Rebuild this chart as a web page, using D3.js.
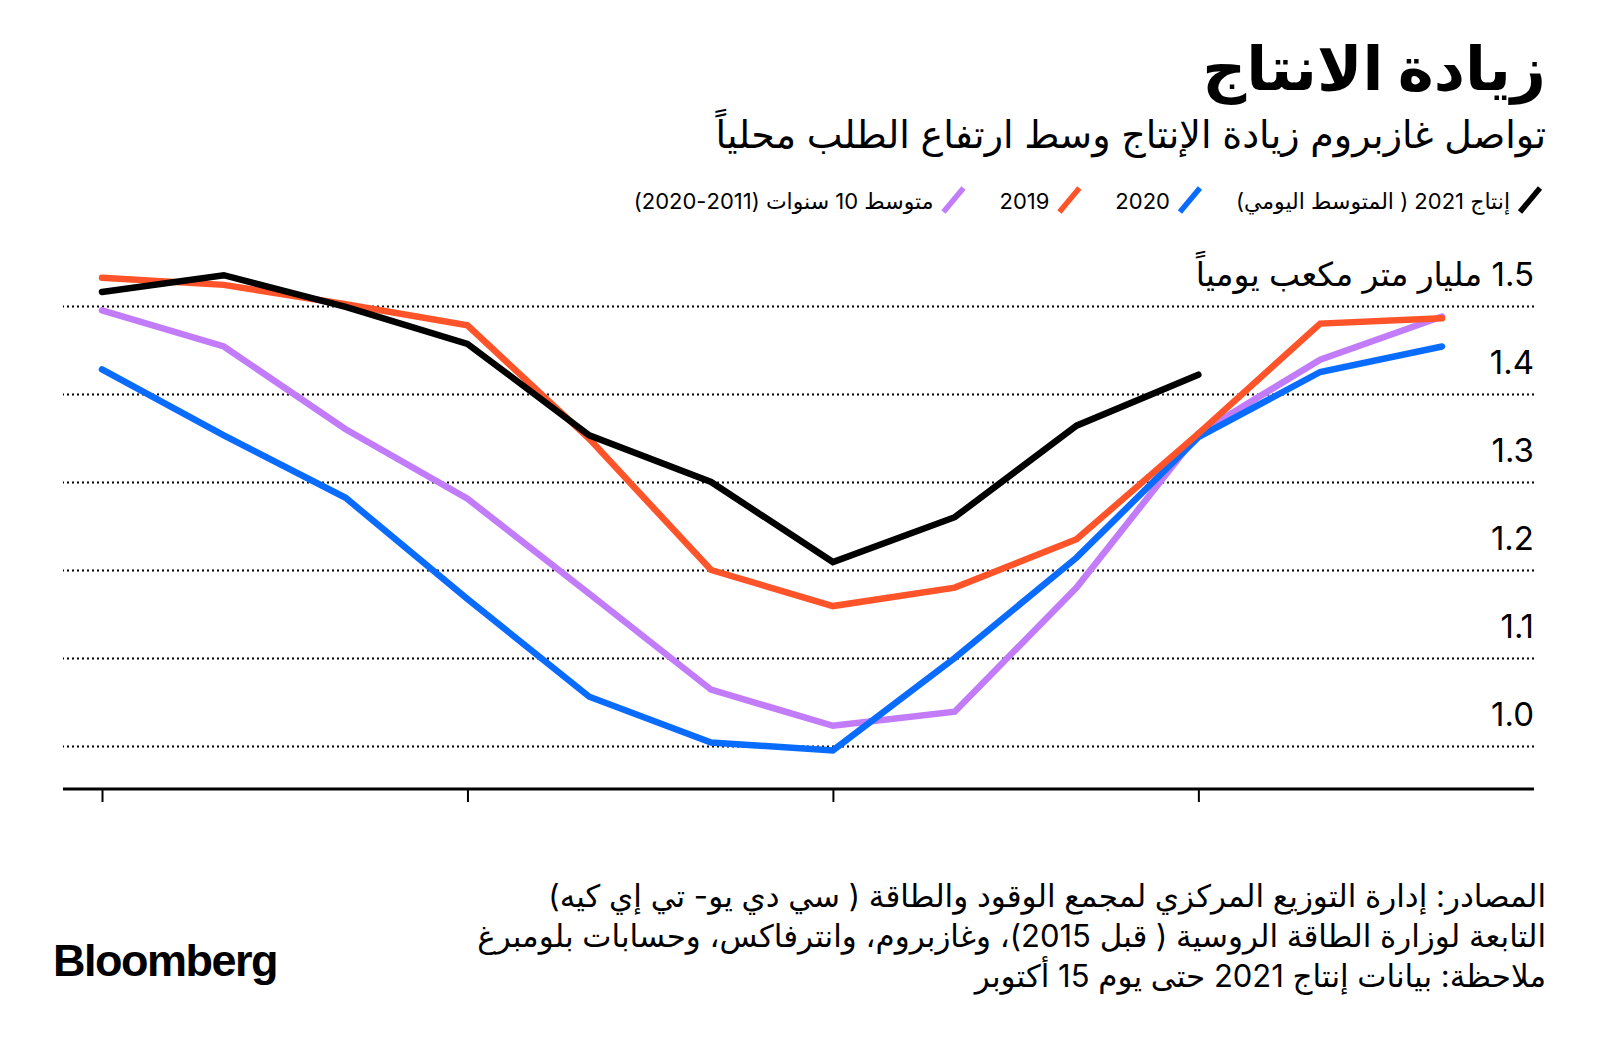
<!DOCTYPE html>
<html><head><meta charset="utf-8">
<script src="https://cdn.jsdelivr.net/npm/d3@7/dist/d3.min.js"></script>
<style>
html,body{margin:0;padding:0;background:#fff;width:1600px;height:1045px;overflow:hidden;}
body{position:relative;font-family:"Inter","DejaVu Sans",sans-serif;color:#000;}
.rt{position:absolute;right:54px;direction:rtl;text-align:right;white-space:nowrap;}
#title{top:32px;font-size:61px;font-weight:bold;line-height:1.2;}
#subtitle{top:112px;font-size:38px;line-height:1.2;}
#foot{top:876px;font-size:31px;line-height:40px;}
#logo{position:absolute;left:53px;top:938px;font-family:"Liberation Sans","Inter",sans-serif;font-weight:bold;font-size:45px;letter-spacing:-1.5px;line-height:1;}
svg{position:absolute;left:0;top:0;}
</style></head><body>
<div id="title" class="rt">زيادة الانتاج</div>
<div id="subtitle" class="rt">تواصل غازبروم زيادة الإنتاج وسط ارتفاع الطلب محلياً</div>
<div id="foot" class="rt">المصادر: إدارة التوزيع المركزي لمجمع الوقود والطاقة ( سي دي يو- تي إي كيه)<br>التابعة لوزارة الطاقة الروسية ( قبل 2015)، وغازبروم، وانترفاكس، وحسابات بلومبرغ<br>ملاحظة: بيانات إنتاج 2021 حتى يوم 15 أكتوبر</div>
<div id="logo">Bloomberg</div>
<svg id="chart" width="1600" height="1045"></svg>
<script>
// months index 0..11 (Jan..Dec)
const months = [0,1,2,3,4,5,6,7,8,9,10,11];
const xTicks = [0,3,6,9];
const yTicks = [1.0,1.1,1.2,1.3,1.4,1.5];
const yUnit = "مليار متر مكعب يومياً";

const seriesNames = ["إنتاج 2021 ( المتوسط اليومي)", "2020", "2019", "متوسط 10 سنوات (2011-2020)"];
const seriesColors = ["#000000", "#0a6cff", "#ff5429", "#c27cfa"];

const prod2021 = [1.516,1.535,1.499,1.457,1.353,1.300,1.209,1.260,1.364,1.422];
const prod2020 = [1.428,1.353,1.282,1.167,1.056,1.004,0.995,1.100,1.214,1.351,1.425,1.454];
const prod2019 = [1.532,1.524,1.502,1.478,1.349,1.200,1.159,1.180,1.235,1.355,1.480,1.486];
const avg10 = [1.495,1.454,1.360,1.281,1.173,1.064,1.023,1.039,1.180,1.355,1.439,1.488];

const seriesValues = [prod2021, prod2020, prod2019, avg10];
// draw order: back to front
const drawOrder = [3,1,2,0];

const svg = d3.select("#chart");
const left = 63, right = 1534, axisY = 789;
const x = d3.scaleLinear().domain([0,11]).range([102,1442]);
const y = d3.scaleLinear().domain([1.0,1.5]).range([746,306]);

// grid + y labels
const gy = svg.append("g").attr("transform",`translate(${right},0)`)
  .call(d3.axisLeft(y).tickValues(yTicks).tickSize(right-left)
    .tickFormat(d => d===1.5 ? d3.format(".1f")(d)+" "+yUnit : d3.format(".1f")(d)));
gy.select(".domain").remove();
gy.selectAll(".tick line").attr("stroke","#000").attr("stroke-width",2).attr("stroke-dasharray","2,3");
gy.selectAll(".tick text").attr("x",0).attr("dy",0).attr("y",-21)
  .attr("direction","rtl").attr("text-anchor","start")
  .attr("font-family","Inter, DejaVu Sans, sans-serif").attr("font-size",33).attr("fill","#000");

// x axis
svg.append("line").attr("x1",left).attr("x2",right).attr("y1",axisY).attr("y2",axisY)
  .attr("stroke","#000").attr("stroke-width",3);
const gx = svg.append("g").attr("transform",`translate(0,${axisY})`)
  .call(d3.axisBottom(x).tickValues(xTicks).tickFormat("").tickSizeInner(13).tickSizeOuter(0));
gx.select(".domain").remove();
gx.selectAll(".tick line").attr("stroke","#000").attr("stroke-width",2);

// lines
const line = d3.line().x((d,i)=>x(months[i])).y(d=>y(d));
drawOrder.forEach(k=>{
  svg.append("path").datum(seriesValues[k]).attr("d",line)
    .attr("fill","none").attr("stroke",seriesColors[k]).attr("stroke-width",6.5)
    .attr("stroke-linecap","round").attr("stroke-linejoin","miter");
});

// legend (RTL, from right)
const lg = svg.append("g");
let cx = 1546;
seriesNames.forEach((name,k)=>{
  lg.append("line").attr("x1",cx-26).attr("y1",212).attr("x2",cx-6).attr("y2",188)
    .attr("stroke",seriesColors[k]).attr("stroke-width",5.5);
  const t = lg.append("text").attr("x",cx-36).attr("y",209)
    .attr("direction","rtl").attr("text-anchor","start")
    .attr("font-family","Inter, DejaVu Sans, sans-serif").attr("font-size",22).text(name);
  const w = t.node().getComputedTextLength();
  cx = cx - 36 - w - 30;
});
</script>
</body></html>
